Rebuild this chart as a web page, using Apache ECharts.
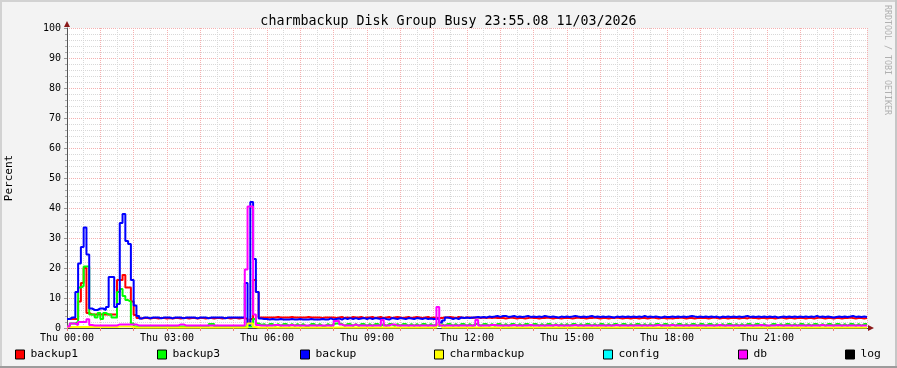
<!DOCTYPE html>
<html>
<head>
<meta charset="utf-8">
<script src="https://cdn.jsdelivr.net/npm/echarts@6/dist/echarts.min.js"></script>
<style>
  html, body { margin: 0; padding: 0; background: #f3f3f3; }
  #chart { width: 897px; height: 368px; }
</style>
</head>
<body>
<div id="chart"></div>
<script>
// ---- DATA (5-minute samples, 288 per series, starting Thu 00:00) ----
const stepMinutes = 5;
const titleText = 'charmbackup Disk Group Busy 23:55.08 11/03/2026';
const yTicks = [0, 10, 20, 30, 40, 50, 60, 70, 80, 90, 100];
const xTickHours = [0, 3, 6, 9, 12, 15, 18, 21];
const seriesNames = ['backup1', 'backup3', 'backup', 'charmbackup', 'config', 'db', 'log'];

const backup1Values = [
  3, 3, 3, 3, 8.8, 15, 20, 5, 4.5, 4.5, 4.5, 4.5,
  4.5, 4.5, 4.5, 4.5, 4.5, 4.5, 16, 16, 17.7, 13.5, 13.5, 8.8,
  4.3, 3.3, 3.2, 3.3, 3.3, 3.2, 3.3, 3.3, 3.2, 3.3, 3.3, 3.2,
  3.3, 3.2, 3.3, 3.3, 3.2, 3.3, 3.3, 3.2, 3.3, 3.3, 3.2, 3.3,
  3.3, 3.2, 3.3, 3.3, 3.2, 3.3, 3.3, 3.2, 3.3, 3.3, 3.2, 3.3,
  3.3, 3.2, 3.3, 3.3, 3, 1, 3, 16, 12, 3.5, 3.5, 3.5,
  3.5, 3.5, 3.5, 3.7, 3.5, 3.5, 3.5, 3.5, 3.7, 3.5, 3.5, 3.5,
  3.5, 3.5, 3.7, 3.5, 3.5, 3.5, 3.5, 3.3, 3.5, 3.5, 3.5, 3.5,
  3.3, 3.5, 3.7, 3.3, 3.5, 3.3, 3.7, 3.5, 3.5, 3.7, 3.3, 3.5,
  3.5, 3.7, 3.3, 3.5, 3.7, 3.3, 3.5, 3.7, 3.3, 3.5, 3.7, 3.5,
  3.3, 3.5, 3.7, 3.3, 3.5, 3.7, 3.5, 3.3, 3.5, 3.7, 3.3, 3.5,
  3.3, 3.3, 3.3, 3.5, 3.5, 3.7, 3.5, 3.3, 3.7, 3.5, 3.3, 3.5,
  3.5, 3.3, 3.5, 3.5, 3.3, 3.5, 3.3, 3.5, 3.3, 3.5, 3.3, 3.3,
  3.3, 3.2, 3.3, 3.5, 3.3, 3.2, 3.3, 3.3, 3.2, 3.3, 3.5, 3.3,
  3.3, 3.2, 3.3, 3.3, 3.5, 3.3, 3.2, 3.3, 3.3, 3.2, 3.3, 3.3,
  3.3, 3.2, 3.3, 3.5, 3.3, 3.3, 3.2, 3.3, 3.3, 3.5, 3.3, 3.2,
  3.3, 3.3, 3.2, 3.3, 3.3, 3.5, 3.3, 3.2, 3.3, 3.3, 3.2, 3.3,
  3.3, 3.2, 3.3, 3.3, 3.2, 3.3, 3.5, 3.3, 3.2, 3.3, 3.3, 3.2,
  3.3, 3.2, 3.3, 3.3, 3.5, 3.3, 3.2, 3.3, 3.3, 3.2, 3.3, 3.3,
  3.3, 3.3, 3.2, 3.3, 3.5, 3.3, 3.2, 3.3, 3.3, 3.2, 3.3, 3.3,
  3.3, 3.2, 3.3, 3.3, 3.2, 3.5, 3.3, 3.3, 3.2, 3.3, 3.3, 3.2,
  3.3, 3.3, 3.2, 3.3, 3.5, 3.3, 3.2, 3.3, 3.3, 3.2, 3.3, 3.3,
  3.3, 3.2, 3.3, 3.3, 3.2, 3.3, 3.5, 3.3, 3.2, 3.3, 3.3, 3.2,
  3.3, 3.3, 3.2, 3.3, 3.3, 3.5, 3.3, 3.2, 3.3, 3.3, 3.2, 3.3
];

const backup3Values = [
  0.5, 1.5, 1.5, 2, 13.5, 14, 20.5, 20.5, 4.5, 4.5, 3.5, 5,
  3, 5, 4.5, 4.5, 3.5, 3.5, 12, 13, 10.7, 9.3, 8.8, 1.5,
  0.5, 0.5, 0.5, 0.7, 0.5, 0.5, 0.5, 0.5, 0.7, 0.5, 0.5, 0.5,
  0.5, 0.5, 0.5, 0.5, 0.5, 0.5, 0.5, 0.5, 0.5, 0.5, 0.5, 0.5,
  0.5, 0.5, 0.5, 1.3, 1.3, 0.5, 0.5, 0.5, 0.5, 0.5, 0.5, 0.5,
  0.5, 0.5, 0.5, 0.5, 0.5, 0.5, 0.5, 3, 1.5, 1, 1.3, 0.7,
  1.3, 1.3, 0.7, 1.3, 0.7, 1.3, 1.3, 0.7, 1.3, 0.7, 1.3, 0.7,
  1.3, 0.7, 0.7, 1.3, 1.3, 0.7, 1.3, 0.7, 0.7, 1.3, 0.7, 1.3,
  1.5, 1.5, 1.3, 0.7, 1.3, 1.3, 0.7, 1.3, 0.7, 1.3, 1.3, 0.7,
  1.3, 0.7, 1.3, 1.3, 0.7, 1.3, 0.7, 1.3, 1.3, 0.7, 1.3, 0.7,
  1.3, 1.3, 0.7, 1.3, 0.7, 1.3, 0.7, 1.3, 1.3, 0.7, 1.3, 0.7,
  1.3, 0.7, 1.3, 0.7, 1.3, 1.3, 0.7, 1.3, 0.7, 1.3, 1.3, 0.7,
  1.3, 0.7, 1.3, 1.3, 0.7, 1.3, 1.3, 0.7, 1.3, 0.7, 1.3, 1.3,
  0.7, 1.3, 0.7, 1.3, 1.3, 0.7, 1.3, 0.7, 1.3, 1.3, 0.7, 1.3,
  1.3, 0.7, 1.3, 0.7, 1.3, 1.3, 0.7, 1.3, 0.7, 1.3, 0.7, 1.3,
  0.7, 1.3, 1.3, 0.7, 1.3, 0.7, 1.3, 1.3, 0.7, 1.3, 0.7, 1.3,
  1.3, 0.7, 1.3, 0.7, 1.3, 1.3, 0.7, 1.3, 1.3, 0.7, 1.3, 0.7,
  1.3, 1.3, 0.7, 1.3, 0.7, 1.3, 0.7, 1.3, 1.3, 0.7, 1.3, 1.3,
  0.7, 1.3, 0.7, 1.3, 1.3, 0.7, 1.3, 0.7, 1.3, 1.3, 0.7, 1.3,
  1.3, 0.7, 1.3, 1.3, 0.7, 1.3, 0.7, 1.3, 0.7, 1.3, 1.3, 0.7,
  1.3, 0.7, 1.3, 0.7, 1.3, 1.3, 0.7, 1.3, 1.3, 0.7, 1.3, 0.7,
  0.7, 1.3, 1.3, 0.7, 1.3, 0.7, 1.3, 1.3, 0.7, 1.3, 0.7, 1.3,
  1.3, 0.7, 1.3, 0.7, 1.3, 1.3, 0.7, 1.3, 0.7, 1.3, 1.3, 0.7,
  1.3, 1.3, 0.7, 1.3, 0.7, 1.3, 1.3, 0.7, 1.3, 0.7, 1.3, 1.3
];

const backupValues = [
  3, 3.5, 3.5, 12, 21.5, 27, 33.5, 24.5, 6.5, 6, 6, 6.5,
  6.5, 6, 7, 17, 17, 7, 8, 35, 38, 29, 28, 16,
  7.5, 4, 3.2, 3.5, 3.5, 3.2, 3.5, 3.5, 3.5, 3.2, 3.5, 3.5,
  3.5, 3.2, 3.5, 3.5, 3.5, 3.2, 3.5, 3.5, 3.5, 3.5, 3.2, 3.5,
  3.5, 3.5, 3.2, 3.5, 3.5, 3.5, 3.5, 3.5, 3.2, 3.5, 3.5, 3.5,
  3.5, 3.5, 3.5, 3.5, 15, 1, 42, 23, 12, 3.2, 3, 3,
  2.8, 3, 2.8, 2.8, 3, 2.8, 2.8, 2.8, 3, 2.8, 2.8, 3,
  2.8, 2.8, 2.8, 3, 2.8, 2.8, 2.8, 3, 2.8, 2.8, 3.2, 2.8,
  3, 3.2, 2.8, 3.3, 3, 3.3, 3, 3.3, 3, 3.2, 3.3, 3,
  3.3, 3, 3.3, 3.2, 3, 3.3, 3, 2.8, 3.3, 3.2, 3, 3.3,
  3.2, 3, 3.3, 3.2, 3, 3.3, 3.2, 3, 3.3, 3, 3.2, 3,
  3, 3.2, 1.8, 2.5, 3.5, 3.3, 3, 3.3, 3, 3.5, 3.3, 3.5,
  3.3, 3.5, 3.5, 3.7, 3.5, 3.7, 3.5, 3.8, 3.7, 3.8, 4, 3.7,
  4, 4, 3.7, 3.8, 4, 3.7, 3.8, 3.7, 3.8, 4, 3.7, 3.8,
  3.7, 3.8, 3.7, 4, 3.8, 3.7, 3.8, 3.7, 3.5, 3.8, 3.7, 3.8,
  3.7, 3.8, 4, 3.8, 3.7, 3.8, 3.7, 3.8, 4, 3.7, 3.8, 3.7,
  3.8, 3.7, 3.8, 3.7, 3.5, 3.8, 3.7, 3.8, 3.7, 3.8, 3.7, 3.8,
  3.7, 3.8, 3.7, 4, 3.7, 3.8, 3.7, 3.8, 3.7, 3.5, 3.8, 3.7,
  3.7, 3.8, 3.7, 3.8, 3.7, 3.8, 3.7, 3.8, 4, 3.8, 3.7, 3.8,
  3.7, 3.8, 3.7, 3.8, 3.7, 3.8, 3.5, 3.8, 3.7, 3.8, 3.7, 3.8,
  3.7, 3.8, 3.7, 3.8, 4, 3.7, 3.8, 3.7, 3.8, 3.7, 3.8, 3.7,
  3.8, 3.7, 3.8, 3.5, 3.7, 3.8, 3.7, 3.8, 3.7, 3.8, 3.7, 3.8,
  3.7, 3.8, 3.7, 3.8, 3.7, 4, 3.7, 3.8, 3.7, 3.8, 3.7, 3.5,
  3.7, 3.8, 3.7, 3.8, 3.7, 3.8, 4, 3.7, 3.8, 3.7, 3.8, 3.7
];

const charmbackupValues = [
  0.3, 0.3, 0.3, 0.3, 0.3, 0.3, 0.3, 0.3, 0.3, 0.3, 0.3, 0.3,
  0.3, 0.3, 0.3, 0.3, 0.3, 0.3, 0.5, 0.5, 0.5, 0.5, 0.5, 0.3,
  0.2, 0.2, 0.2, 0.2, 0.2, 0.2, 0.2, 0.2, 0.2, 0.2, 0.2, 0.2,
  0.2, 0.2, 0.2, 0.2, 0.2, 0.2, 0.2, 0.2, 0.2, 0.2, 0.2, 0.2,
  0.2, 0.2, 0.2, 0.2, 0.2, 0.2, 0.2, 0.2, 0.2, 0.2, 0.2, 0.2,
  0.2, 0.2, 0.2, 0.2, 0.2, 1.5, 1.5, 0.3, 0.2, 0.2, 0.2, 0.2,
  0.2, 0.2, 0.2, 0.2, 0.2, 0.2, 0.2, 0.2, 0.2, 0.2, 0.2, 0.2,
  0.2, 0.2, 0.2, 0.2, 0.2, 0.2, 0.2, 0.2, 0.2, 0.2, 0.2, 0.2,
  0.2, 0.2, 0.2, 0.2, 0.2, 0.2, 0.2, 0.2, 0.2, 0.2, 0.2, 0.2,
  0.2, 0.2, 0.2, 0.2, 0.2, 0.2, 0.2, 0.2, 0.2, 0.2, 0.2, 0.2,
  0.2, 0.2, 0.2, 0.2, 0.2, 0.2, 0.2, 0.2, 0.2, 0.2, 0.2, 0.2,
  0.2, 1, 1, 0.2, 0.2, 0.2, 0.2, 0.2, 0.2, 0.2, 0.2, 0.2,
  0.2, 0.2, 0.2, 0.2, 0.2, 0.2, 0.2, 0.2, 0.2, 0.2, 0.2, 0.2,
  0.2, 0.2, 0.2, 0.2, 0.2, 0.2, 0.2, 0.2, 0.2, 0.2, 0.2, 0.2,
  0.2, 0.2, 0.2, 0.2, 0.2, 0.2, 0.2, 0.2, 0.2, 0.2, 0.2, 0.2,
  0.2, 0.2, 0.2, 0.2, 0.2, 0.2, 0.2, 0.2, 0.2, 0.2, 0.2, 0.2,
  0.2, 0.2, 0.2, 0.2, 0.2, 0.2, 0.2, 0.2, 0.2, 0.2, 0.2, 0.2,
  0.2, 0.2, 0.2, 0.2, 0.2, 0.2, 0.2, 0.2, 0.2, 0.2, 0.2, 0.2,
  0.2, 0.2, 0.2, 0.2, 0.2, 0.2, 0.2, 0.2, 0.2, 0.2, 0.2, 0.2,
  0.2, 0.2, 0.2, 0.2, 0.2, 0.2, 0.2, 0.2, 0.2, 0.2, 0.2, 0.2,
  0.2, 0.2, 0.2, 0.2, 0.2, 0.2, 0.2, 0.2, 0.2, 0.2, 0.2, 0.2,
  0.2, 0.2, 0.2, 0.2, 0.2, 0.2, 0.2, 0.2, 0.2, 0.2, 0.2, 0.2,
  0.2, 0.2, 0.2, 0.2, 0.2, 0.2, 0.2, 0.2, 0.2, 0.2, 0.2, 0.2,
  0.2, 0.2, 0.2, 0.2, 0.2, 0.2, 0.2, 0.2, 0.2, 0.2, 0.2, 0.2
];

// config and log stay hidden at zero in the reference (nothing visible)
const configValues = [];
const logValues = [];

const dbValues = [
  0.5, 1.5, 1.5, 1, 2, 2, 2, 2.9, 1, 0.8, 0.8, 0.8,
  0.8, 0.8, 0.8, 0.8, 0.8, 0.8, 1.2, 1.2, 1.2, 1.2, 1.2, 1.2,
  1.2, 0.8, 0.8, 0.8, 0.8, 0.8, 0.8, 0.8, 0.8, 0.8, 0.8, 0.8,
  0.8, 0.8, 0.8, 0.8, 1.2, 1.2, 0.8, 0.8, 0.8, 0.8, 0.8, 0.8,
  0.8, 0.8, 0.8, 0.8, 0.8, 0.8, 0.8, 0.8, 0.8, 0.8, 0.8, 0.8,
  0.8, 0.8, 0.8, 0.8, 19.5, 40.5, 40.5, 4.5, 1, 0.8, 0.8, 0.8,
  0.8, 0.8, 1, 1, 0.8, 0.8, 0.8, 0.8, 1, 0.8, 0.8, 0.8,
  0.8, 0.8, 0.8, 0.8, 0.8, 0.8, 0.8, 0.8, 0.8, 0.8, 0.8, 0.8,
  2.3, 2.3, 1.2, 0.8, 0.8, 0.8, 0.8, 1.2, 0.8, 0.8, 0.8, 0.8,
  0.8, 0.8, 0.8, 0.8, 0.8, 2.7, 0.8, 0.8, 1.2, 1.2, 0.8, 0.8,
  0.8, 0.8, 0.8, 0.8, 0.8, 0.8, 0.8, 0.8, 0.8, 0.8, 0.8, 0.8,
  0.8, 7, 0.8, 0.8, 0.8, 0.8, 0.8, 0.8, 0.8, 0.8, 0.8, 0.8,
  0.8, 0.8, 0.8, 2.7, 0.8, 0.8, 0.8, 0.8, 1, 1, 0.8, 0.8,
  0.8, 0.8, 0.8, 0.8, 1, 0.8, 0.8, 0.8, 0.8, 0.8, 1, 0.8,
  0.8, 0.8, 0.8, 0.8, 0.8, 0.8, 0.8, 1, 0.8, 0.8, 0.8, 0.8,
  0.8, 0.8, 1, 0.8, 0.8, 0.8, 0.8, 0.8, 0.8, 0.8, 0.8, 0.8,
  0.8, 0.8, 0.8, 0.8, 0.8, 1, 0.8, 0.8, 0.8, 0.8, 0.8, 0.8,
  0.8, 0.8, 0.8, 0.8, 0.8, 0.8, 0.8, 0.8, 1, 0.8, 0.8, 0.8,
  0.8, 1, 0.8, 0.8, 0.8, 0.8, 0.8, 0.8, 0.8, 0.8, 0.8, 0.8,
  0.8, 0.8, 0.8, 0.8, 0.8, 0.8, 1, 0.8, 0.8, 0.8, 0.8, 0.8,
  0.8, 0.8, 0.8, 0.8, 0.8, 0.8, 0.8, 0.8, 0.8, 1, 0.8, 0.8,
  0.8, 0.8, 0.8, 1, 0.8, 0.8, 0.8, 0.8, 0.8, 0.8, 0.8, 0.8,
  0.8, 0.8, 0.8, 0.8, 0.8, 0.8, 0.8, 1, 0.8, 0.8, 0.8, 0.8,
  0.8, 0.8, 0.8, 0.8, 0.8, 0.8, 0.8, 0.8, 0.8, 0.8, 0.8, 0.8
];

// ---- STYLE / LAYOUT ----
const MONO = "'DejaVu Sans Mono', 'Liberation Mono', monospace";
const GRID_LEFT = 67, GRID_TOP = 28, GRID_W = 800, GRID_H = 300;
const colors = ['#ff0000', '#00ff00', '#0000ff', '#ffff00', '#00ffff', '#ff00ff', '#000000'];
const legendLefts = [15, 157, 300, 434, 603, 738, 845];
const valueArrays = [backup1Values, backup3Values, backupValues, charmbackupValues, configValues, dbValues, logValues];

function toPoints(arr) {
  const pts = arr.map((v, i) => [i * stepMinutes, v]);
  if (arr.length) pts.push([arr.length * stepMinutes, arr[arr.length - 1]]);
  return pts;
}
function pad(n) { return (n < 10 ? '0' : '') + n; }

const chart = echarts.init(document.getElementById('chart'), null, { renderer: 'canvas' });

const option = {
  animation: false,
  backgroundColor: '#f3f3f3',
  title: {
    text: titleText,
    left: 'center',
    top: 10,
    textStyle: { fontFamily: MONO, fontSize: 13.3, fontWeight: 'normal', color: '#000' }
  },
  legend: seriesNames.map((name, i) => ({
    data: [name],
    left: legendLefts[i],
    top: 349,
    padding: 0,
    icon: 'rect',
    itemWidth: 9,
    itemHeight: 9,
    selectedMode: false,
    itemStyle: { borderColor: '#000', borderWidth: 1 },
    textStyle: { fontFamily: MONO, fontSize: 11.3, color: '#000', padding: [0, 0, 0, 1] }
  })),
  grid: {
    left: GRID_LEFT, top: GRID_TOP, width: GRID_W, height: GRID_H,
    outerBoundsMode: 'none',
    containLabel: false,
    show: true, backgroundColor: '#ffffff', borderWidth: 0
  },
  xAxis: {
    type: 'value',
    min: 0,
    max: 1440,
    interval: 60,
    axisLine: { show: true, onZero: false, lineStyle: { color: '#444', width: 1 } },
    axisTick: { show: true, length: 3, lineStyle: { color: '#f08080' } },
    axisLabel: {
      fontFamily: MONO, fontSize: 10, color: '#000', margin: 5,
      showMaxLabel: false,
      formatter: function (v) {
        const h = v / 60;
        return xTickHours.indexOf(h) >= 0 ? 'Thu ' + pad(h) + ':00' : '';
      }
    },
    splitLine: { show: true, lineStyle: { color: '#f5b0b0', type: [1, 1], width: 1 } },
    minorTick: { show: false, splitNumber: 2 },
    minorSplitLine: { show: true, lineStyle: { color: '#d8d8d8', type: [1, 1], width: 1 } }
  },
  yAxis: {
    type: 'value',
    min: yTicks[0],
    max: yTicks[yTicks.length - 1],
    interval: 10,
    name: 'Percent',
    nameLocation: 'middle',
    nameGap: 52,
    nameTextStyle: { fontFamily: MONO, fontSize: 11, color: '#000' },
    axisLine: { show: true, lineStyle: { color: '#555', width: 1 } },
    axisTick: { show: true, length: 3, lineStyle: { color: '#999' } },
    minorTick: { show: true, splitNumber: 5, length: 2, lineStyle: { color: '#aaa' } },
    axisLabel: { fontFamily: MONO, fontSize: 10, color: '#000', margin: 6 },
    splitLine: { show: true, lineStyle: { color: '#f5b0b0', type: [1, 1], width: 1 } },
    minorSplitLine: { show: true, lineStyle: { color: '#d8d8d8', type: [1, 1], width: 1 } }
  },
  series: seriesNames.map((name, i) => ({
    name: name,
    type: 'line',
    step: 'end',
    showSymbol: false,
    symbol: 'none',
    clip: true,
    color: colors[i],
    lineStyle: { color: colors[i], width: 2 },
    itemStyle: { color: colors[i] },
    emphasis: { disabled: true },
    z: 2 + i,
    data: toPoints(valueArrays[i])
  })),
  graphic: [
    // frame shading
    { type: 'rect', shape: { x: 0, y: 0, width: 897, height: 2 }, style: { fill: '#d2d2d2' }, silent: true },
    { type: 'rect', shape: { x: 0, y: 0, width: 2, height: 368 }, style: { fill: '#d2d2d2' }, silent: true },
    { type: 'rect', shape: { x: 895, y: 0, width: 2, height: 368 }, style: { fill: '#c6c6c6' }, silent: true },
    { type: 'rect', shape: { x: 0, y: 366, width: 897, height: 2 }, style: { fill: '#9c9c9c' }, silent: true },
    // axis arrows
    { type: 'polygon', z: 100, silent: true,
      shape: { points: [[GRID_LEFT - 3, GRID_TOP - 1], [GRID_LEFT + 3, GRID_TOP - 1], [GRID_LEFT, GRID_TOP - 7]] },
      style: { fill: '#8b1a1a' } },
    { type: 'polygon', z: 100, silent: true,
      shape: { points: [[GRID_LEFT + GRID_W + 1, GRID_TOP + GRID_H - 3], [GRID_LEFT + GRID_W + 1, GRID_TOP + GRID_H + 3], [GRID_LEFT + GRID_W + 7, GRID_TOP + GRID_H]] },
      style: { fill: '#8b1a1a' } },
    { type: 'rect', z: 99, silent: true,
      shape: { x: GRID_LEFT + GRID_W, y: GRID_TOP + GRID_H, width: 2, height: 1 }, style: { fill: '#444' } },
    // watermark
    { type: 'text', silent: true, x: 891, y: 5, rotation: -Math.PI / 2,
      style: { text: 'RRDTOOL / TOBI OETIKER', fill: '#b0b0b0', fontFamily: MONO, fontSize: 8.3, textAlign: 'left', textVerticalAlign: 'top' } }
  ]
};

chart.setOption(option);
</script>
</body>
</html>
